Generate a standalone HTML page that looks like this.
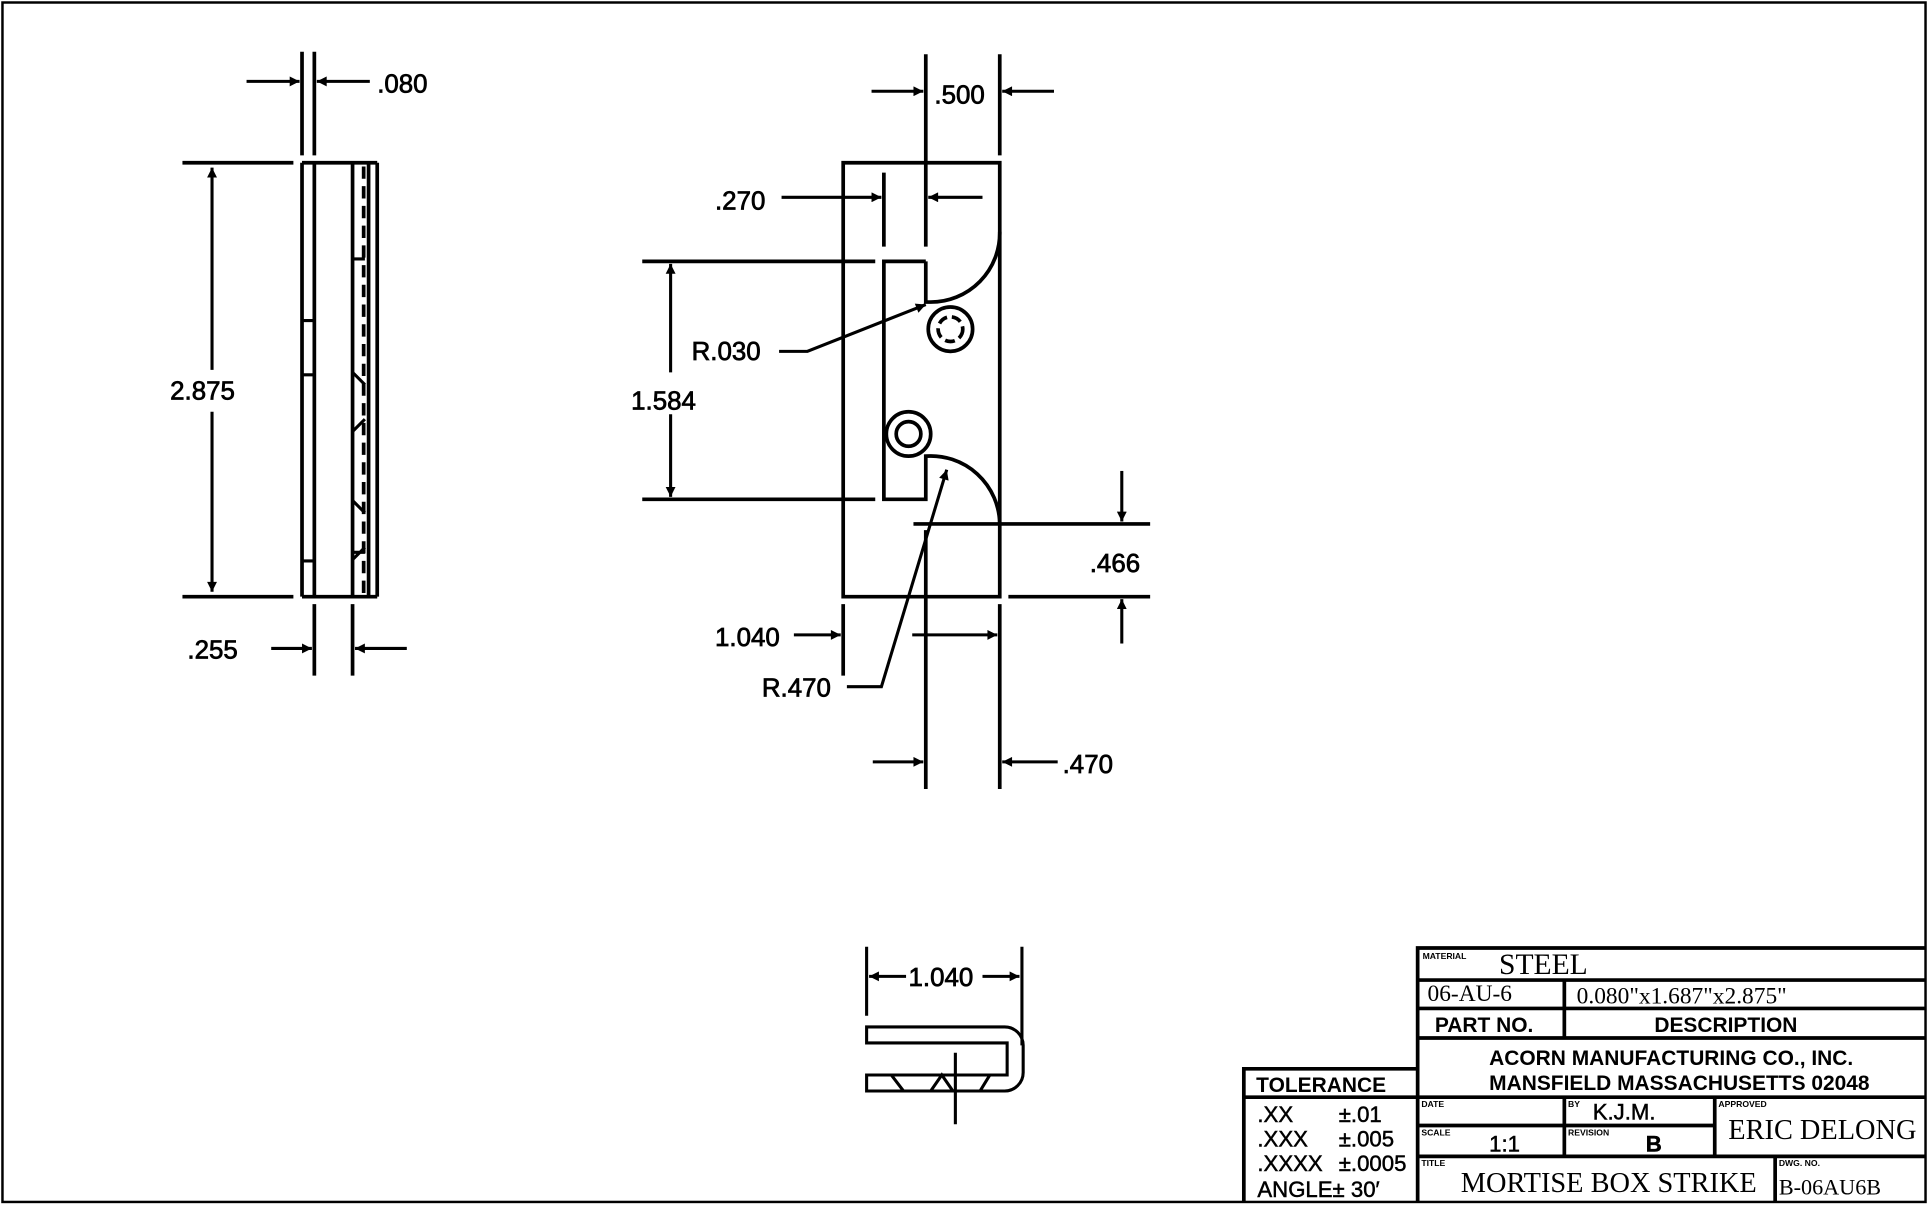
<!DOCTYPE html>
<html><head><style>html,body{margin:0;padding:0;background:#fff}svg{display:block}</style></head><body>
<svg width="1928" height="1210" viewBox="0 0 1564 981.5" xmlns="http://www.w3.org/2000/svg" font-family="Liberation Sans, sans-serif">
<defs>
<marker id="ah" viewBox="0 0 10 10" refX="10" refY="5" markerWidth="20" markerHeight="8" orient="auto" markerUnits="userSpaceOnUse"><path d="M0,0L10,5L0,10z"/></marker></defs>
<g fill="none" stroke="#000" stroke-width="3">
<rect x="2" y="2" width="1560" height="973" stroke-width="2"/>
<!-- left view -->
<path d="M245,132V484M255,132V484M286,132V484M299,132V484M306,132V484M245,132H306M245,484H306"/>
<path d="M295,135V482" stroke-dasharray="10,6"/>
<path d="M245,260H255M245,304H255M245,455H255M286,210H296M286,448H296M286,302L296,312M286,350L296,340M286,406L296,416M286,454L296,444" stroke-width="2.5"/>
<path d="M245,42V126M255,42V126M255,490V548M286,490V548M148,132H238M148,484H238"/>
<g stroke-width="2.5" marker-end="url(#ah)">
<path d="M200,66H243"/><path d="M300,66H257"/><path d="M220,526H253"/><path d="M330,526H288"/>
<path d="M172,300V136"/><path d="M172,334V480"/>
</g>
<!-- middle view -->
<path d="M684,132H811V484H684Z"/>
<path d="M751,212H717V405H751V370A56,56 0 0 1 811,425M751,212V245H755A56,56 0 0 0 811,188"/>
<circle cx="771" cy="267" r="18"/><circle cx="771" cy="267" r="10" stroke-dasharray="8,4"/>
<circle cx="737" cy="352" r="18"/><circle cx="737" cy="352" r="10"/>
<path d="M751,44V200M811,44V126M717,140V200M521,212H710M521,405H710M741,425H933M818,484H933M684,490V548M811,490V548M751,430V640M811,490V640"/>
<g stroke-width="2.5" marker-end="url(#ah)">
<path d="M707,74H749"/><path d="M855,74H813"/><path d="M634,160H715"/><path d="M797,160H753"/>
<path d="M544,302V214"/><path d="M544,336V403"/><path d="M910,382V423"/><path d="M910,522V486"/>
<path d="M644,515H682"/><path d="M740,515H809"/><path d="M708,618H749"/><path d="M858,618H813"/>
<path d="M632,285H655L751,247"/><path d="M687,557H715L768,381"/>
</g>
<!-- bottom view -->
<path d="M703,768V824M829,768V848" stroke-width="2.5"/>
<g stroke-width="2.5" marker-end="url(#ah)"><path d="M735,792H705"/><path d="M797,792H827"/></g>
<path d="M703,833H815A15,15 0 0 1 830,848V870A15,15 0 0 1 815,885H703V872H817V846H703Z" stroke-width="2.5"/>
<path d="M723,872L733,885M755,885L764,872L773,885M795,885L803,872M775,854V912" stroke-width="2.5"/>
<!-- title block -->
<path d="M1150,975V769H1562M1150,795H1562M1150,818H1562M1150,842H1562M1150,890H1562M1150,913H1391M1150,938H1562M1269,795V842M1269,890V938M1391,890V938M1440,938V975"/>
<path d="M1009,975V867H1150M1009,890H1150"/>
</g>
<g font-size="21" fill="#000" stroke="#000" stroke-width="0.6">
<text x="306" y="75">.080</text><text x="138" y="324">2.875</text><text x="152" y="534">.255</text>
<text x="758" y="84">.500</text><text x="580" y="170">.270</text><text x="561" y="292">R.030</text><text x="512" y="332">1.584</text>
<text x="884" y="464">.466</text><text x="580" y="524">1.040</text><text x="618" y="565">R.470</text><text x="862" y="627">.470</text>
<text x="737" y="800">1.040</text>
</g>
<g font-family="Liberation Serif, serif" fill="#000">
<text x="1216" y="790" font-size="24">STEEL</text>
<text x="1158" y="812" font-size="19">06-AU-6</text>
<text x="1279" y="814" font-size="19">0.080"x1.687"x2.875"</text>
<text x="1402" y="924" font-size="23">ERIC DELONG</text>
<text x="1185" y="967" font-size="23">MORTISE BOX STRIKE</text>
<text x="1443" y="969" font-size="18">B-06AU6B</text>
</g>
<g font-size="17" fill="#000" font-weight="bold">
<text x="1164" y="837">PART NO.</text><text x="1342" y="837">DESCRIPTION</text>
<text x="1208" y="864">ACORN MANUFACTURING CO., INC.</text>
<text x="1208" y="884">MANSFIELD MASSACHUSETTS 02048</text>
<text x="1019" y="886">TOLERANCE</text>
</g>
<g font-size="18" fill="#000" stroke="#000" stroke-width="0.4">
<text x="1020" y="910">.XX</text><text x="1086" y="910">±.01</text>
<text x="1020" y="930">.XXX</text><text x="1086" y="930">±.005</text>
<text x="1020" y="950">.XXXX</text><text x="1086" y="950">±.0005</text>
<text x="1020" y="971">ANGLE± 30′</text>
<text x="1292" y="908">K.J.M.</text>
<text x="1208" y="934">1:1</text>
<text x="1335" y="934" font-weight="bold">B</text>
</g>
<g font-size="7" font-weight="bold" fill="#000">
<text x="1154" y="778">MATERIAL</text><text x="1153" y="898">DATE</text><text x="1272" y="898">BY</text><text x="1394" y="898">APPROVED</text>
<text x="1153" y="921">SCALE</text><text x="1272" y="921">REVISION</text><text x="1153" y="946">TITLE</text><text x="1443" y="946">DWG. NO.</text>
</g>
</svg>
</body></html>
